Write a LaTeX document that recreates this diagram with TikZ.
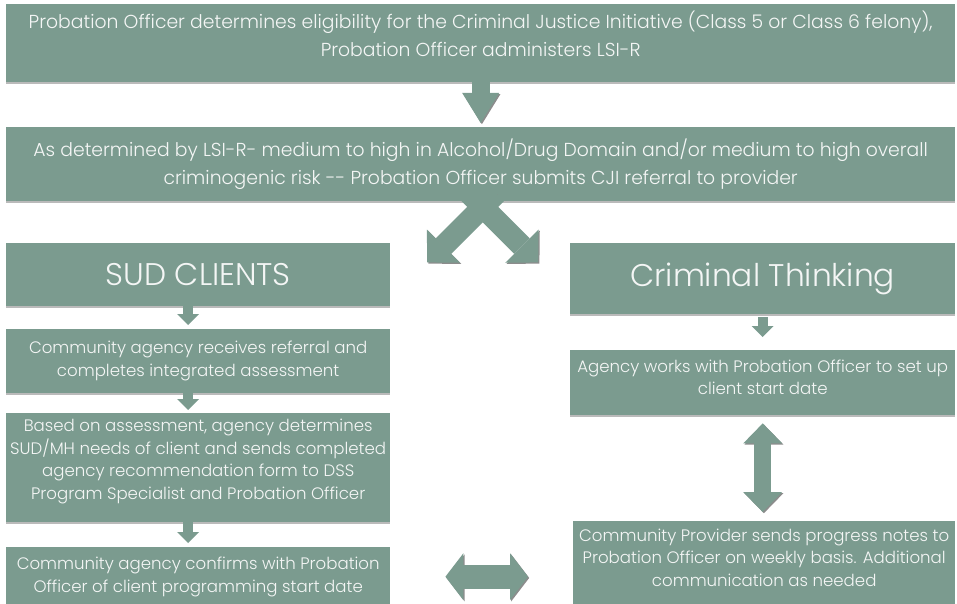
\documentclass[tikz,border=0pt]{standalone}
\usepackage{fontspec}
\IfFontExistsTF{Poppins Light}{\setmainfont{Poppins Light}}{\setmainfont{Poppins}}
\usetikzlibrary{arrows.meta,calc,shadows}

\definecolor{sage}{RGB}{123,155,143}
\definecolor{paleink}{RGB}{244,246,245}

\tikzset{
  stage/.style={fill=sage, text=paleink, align=center, inner sep=0pt, anchor=north west,
    drop shadow={shadow xshift=0pt, shadow yshift=-2pt, fill=black!45, opacity=.6}},
  widetext/.style={font=\fontsize{18.8}{28}\selectfont},
  colltext/.style={font=\fontsize{16.6}{22.7}\selectfont},
  headtext/.style={font=\fontsize{31.3}{40}\selectfont},
  fatarrow/.style={draw=sage, line cap=butt, line width=#1,
    preaction={draw=black!45, transform canvas={shift={(1.2pt,-1.2pt)}}}},
  nextarrow/.style={draw=sage, line cap=butt, line width=10pt,
    -{Triangle[length=11pt, width=22pt, line width=0pt]}},
}

\begin{document}
\begin{tikzpicture}[x=1pt, y=-1pt]
\useasboundingbox (0,0) rectangle (957,604);

% top row
\node[stage, widetext, minimum width=949pt, minimum height=78pt, text depth=18pt] (elig) at (6,4)
  {Probation Officer determines eligibility for the Criminal Justice Initiative (Class 5 or Class 6 felony),\\
   Probation Officer administers LSI-R};
\node[stage, widetext, minimum width=949pt, minimum height=74pt] (refer) at (6,127)
  {As determined by LSI-R- medium to high in Alcohol/Drug Domain and/or medium to high overall\\
   criminogenic risk -{}- Probation Officer submits CJI referral to provider};

% left column
\node[stage, headtext, minimum width=384pt, minimum height=63pt] (sud) at (6,243) {SUD CLIENTS};
\node[stage, colltext, minimum width=384pt, minimum height=64pt] (recv) at (6,329)
  {Community agency receives referral and\\ completes integrated assessment};
\node[stage, colltext, minimum width=384pt, minimum height=109pt, text depth=17pt] (needs) at (6,413)
  {Based on assessment, agency determines\\ SUD/MH needs of client and sends completed\\
   agency recommendation form to DSS\\ Program Specialist and Probation Officer};
\node[stage, colltext, minimum width=384pt, minimum height=59pt] (confirm) at (6,547)
  {Community agency confirms with Probation\\ Officer of client programming start date};

% right column
\node[stage, headtext, minimum width=385pt, minimum height=71pt] (crim) at (570,243) {Criminal Thinking};
\node[stage, colltext, minimum width=385pt, minimum height=65pt, text depth=11pt] (setup) at (570,350)
  {Agency works with Probation Officer to set up\\ client start date};
\node[stage, colltext, minimum width=382pt, minimum height=85pt, text depth=12pt] (notes) at (573,521)
  {Community Provider sends progress notes to\\ Probation Officer on weekly basis. Additional\\
   communication as needed};

% arrows
\coordinate (toSud) at ($(refer.south)+(-53.5,61)$);
\coordinate (toCrim) at ($(refer.south)+(57.5,61)$);

\draw[fatarrow=18pt, -{Triangle[length=30pt, width=37pt, line width=0pt]}]
  (elig.south) -- ([yshift=4pt]refer.north);
\draw[fatarrow=22pt, -{Triangle[length=23pt, width=47pt, line width=0pt]}]
  ($(refer.south)+(15.5,-8)$) -- (toSud);
\draw[fatarrow=22pt, -{Triangle[length=23pt, width=47pt, line width=0pt]}]
  ($(refer.south)+(-11.5,-8)$) -- (toCrim);

\draw[nextarrow] ([xshift=-10pt]sud.south) -- ([xshift=-10pt,yshift=4pt]recv.north);
\draw[nextarrow] ([xshift=-10pt]recv.south) -- ([xshift=-10pt,yshift=3pt]needs.north);
\draw[nextarrow] ([xshift=-10pt]needs.south) -- ([xshift=-10pt,yshift=4pt]confirm.north);
\draw[nextarrow] ([yshift=-3pt]crim.south) -- ([yshift=13pt]setup.north);

\draw[fatarrow=17pt, {Triangle[length=20pt, width=39pt, line width=0pt]}-{Triangle[length=20pt, width=39pt, line width=0pt]}]
  ($(setup.south)+(0,8)$) -- ($(setup.south |- notes.north)+(0,-9)$);
\draw[fatarrow=24pt, {Triangle[length=18pt, width=47pt, line width=0pt]}-{Triangle[length=18pt, width=47pt, line width=0pt]}]
  ($(confirm.east)+(55,0)$) -- ($(confirm.east -| notes.west)+(-45,0)$);
\end{tikzpicture}
\end{document}
